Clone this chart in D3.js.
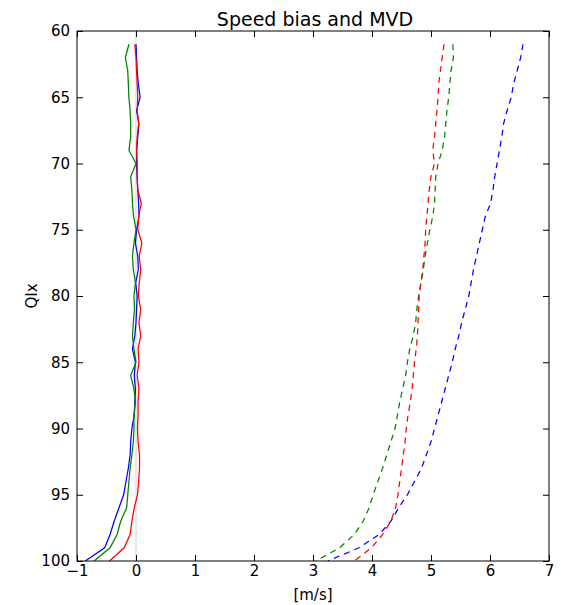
<!DOCTYPE html>
<head>
  <meta charset="utf-8">
  <title>Speed bias and MVD</title>
  <style>
    body { margin: 0; background: #fff; }
    text { font-family: "DejaVu Sans", sans-serif; fill: #000; }
  </style>
</head>

<script src="https://d3js.org/d3.v7.min.js"></script>

<div id="my_dataviz"></div>

<script>

  // QIx levels (y axis)
  const qix = d3.range(61, 101)

  // speed bias, solid lines
  const biasBlue = [0.00, 0.01, 0.02, 0.04, 0.07, 0.01, 0.05, 0.03, 0.01, 0.01,
    0.02, 0.03, 0.045, 0.05, 0.01, -0.01, 0.03, 0.04, -0.005, 0.02,
    0.01, 0.0, -0.02, -0.06, -0.01, -0.03, -0.01, -0.02, -0.03, -0.07,
    -0.09, -0.10, -0.13, -0.17, -0.21, -0.29, -0.37, -0.44, -0.53, -0.86]
  const biasRed = [-0.02, 0.0, 0.01, 0.02, 0.03, 0.02, 0.045, 0.02, 0.01, 0.02,
    0.02, 0.03, 0.09, 0.045, 0.03, 0.10, 0.055, 0.08, 0.055, 0.04,
    0.08, 0.05, 0.08, 0.035, 0.05, 0.02, 0.05, 0.035, 0.035, 0.025,
    0.035, 0.06, 0.06, 0.045, 0.025, -0.03, -0.07, -0.10, -0.20, -0.45]
  const biasGreen = [-0.12, -0.18, -0.14, -0.13, -0.12, -0.10, -0.09, -0.09, -0.12, 0.0,
    -0.09, -0.07, -0.06, -0.04, 0.0, -0.035, -0.06, -0.045, -0.01, -0.035,
    -0.025, -0.045, -0.06, -0.035, 0.0, -0.09, -0.035, -0.01, -0.035, -0.035,
    -0.045, -0.07, -0.10, -0.12, -0.14, -0.16, -0.26, -0.32, -0.44, -0.71]

  // MVD, dashed lines
  const mvdBlue = [6.56, 6.52, 6.46, 6.40, 6.36, 6.29, 6.23, 6.20, 6.16, 6.12,
    6.08, 6.05, 6.01, 5.92, 5.87, 5.82, 5.77, 5.72, 5.68, 5.64,
    5.58, 5.52, 5.47, 5.41, 5.36, 5.30, 5.24, 5.18, 5.12, 5.06,
    5.00, 4.92, 4.84, 4.72, 4.60, 4.45, 4.32, 4.12, 3.78, 3.25]
  const mvdRed = [5.22, 5.19, 5.16, 5.13, 5.12, 5.10, 5.08, 5.06, 5.03, 5.06,
    5.00, 4.97, 4.95, 4.93, 4.91, 4.90, 4.88, 4.86, 4.83, 4.80,
    4.79, 4.78, 4.77, 4.75, 4.72, 4.70, 4.68, 4.65, 4.61, 4.58,
    4.56, 4.53, 4.50, 4.47, 4.44, 4.40, 4.32, 4.18, 3.99, 3.70]
  const mvdGreen = [5.37, 5.38, 5.34, 5.32, 5.30, 5.27, 5.25, 5.23, 5.19, 5.12,
    5.08, 5.07, 5.06, 5.03, 4.98, 4.94, 4.90, 4.87, 4.83, 4.79,
    4.76, 4.74, 4.70, 4.64, 4.60, 4.57, 4.52, 4.47, 4.43, 4.39,
    4.32, 4.25, 4.18, 4.10, 4.02, 3.95, 3.85, 3.70, 3.45, 3.05]

  const xTicks = [-1, 0, 1, 2, 3, 4, 5, 6, 7]
  const yTicks = [60, 65, 70, 75, 80, 85, 90, 95, 100]

  const margin = {top: 31, right: 12, bottom: 44, left: 77},
      width = 561 - margin.left - margin.right,
      height = 605 - margin.top - margin.bottom;

  const svg = d3.select("#my_dataviz")
    .append("svg")
      .attr("width", 561)
      .attr("height", 605)
    .append("g")
      .attr("transform", `translate(${margin.left},${margin.top})`);

  const x = d3.scaleLinear().domain([-1, 7]).range([0, width])
  const y = d3.scaleLinear().domain([60, 100]).range([0, height])

  svg.append("clipPath").attr("id", "clip")
    .append("rect").attr("width", width).attr("height", height)

  // zero line
  svg.append("line")
    .attr("x1", x(0)).attr("x2", x(0))
    .attr("y1", 0).attr("y2", height)
    .attr("stroke", "#d3d3d3")
    .attr("stroke-width", 1)

  const series = [
    {vals: biasBlue, color: "#0000ff", dash: null},
    {vals: biasGreen, color: "#008000", dash: null},
    {vals: biasRed, color: "#ff0000", dash: null},
    {vals: mvdBlue, color: "#0000ff", dash: "6,5"},
    {vals: mvdGreen, color: "#008000", dash: "6,5"},
    {vals: mvdRed, color: "#ff0000", dash: "6,5"}
  ]

  const line = d3.line()
    .x(d => x(d[0]))
    .y(d => y(d[1]))

  svg.append("g").attr("clip-path", "url(#clip)")
    .selectAll("path")
    .data(series)
    .join("path")
      .attr("d", s => line(s.vals.map((v, i) => [v, qix[i]])))
      .attr("fill", "none")
      .attr("stroke", s => s.color)
      .attr("stroke-width", 1.25)
      .attr("stroke-dasharray", s => s.dash)

  // axes, ticks pointing inward (classic style)
  const tl = 6
  svg.append("g")
    .attr("transform", `translate(0,${height})`)
    .call(d3.axisBottom(x).tickValues(xTicks).tickSize(-tl).tickPadding(4).tickFormat(d => d < 0 ? "\u2212" + Math.abs(d) : d))
  svg.append("g")
    .call(d3.axisTop(x).tickValues(xTicks).tickSize(-tl).tickFormat(""))
  svg.append("g")
    .call(d3.axisLeft(y).tickValues(yTicks).tickSize(-tl).tickPadding(7))
  svg.append("g")
    .attr("transform", `translate(${width},0)`)
    .call(d3.axisRight(y).tickValues(yTicks).tickSize(-tl).tickFormat(""))

  svg.selectAll(".domain").remove()
  svg.selectAll(".tick line").attr("stroke", "#000")
  svg.selectAll(".tick text").attr("font-size", 15).attr("font-family", "DejaVu Sans").attr("fill", "#000")

  svg.append("rect")
    .attr("width", width).attr("height", height)
    .attr("fill", "none").attr("stroke", "#000").attr("stroke-width", 1)

  // titles
  svg.append("text")
    .attr("x", width / 2 + 2).attr("y", -5)
    .attr("text-anchor", "middle")
    .attr("font-size", 19)
    .text("Speed bias and MVD")

  svg.append("text")
    .attr("x", width / 2).attr("y", height + 39)
    .attr("text-anchor", "middle")
    .attr("font-size", 15)
    .text("[m/s]")

  svg.append("text")
    .attr("transform", `translate(${-40},${height / 2}) rotate(-90)`)
    .attr("text-anchor", "middle")
    .attr("font-size", 15)
    .text("QIx")

</script>
